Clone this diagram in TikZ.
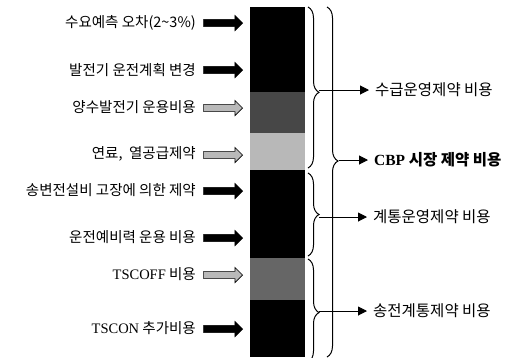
\documentclass[tikz,border=0pt]{standalone}
\usepackage{fontspec}
\setmainfont{Noto Sans CJK KR}
\newfontfamily\latinserif{Liberation Serif}
\usetikzlibrary{shapes.arrows,decorations.pathreplacing,arrows.meta}
\tikzset{
  lab/.style={anchor=east, font=\fontsize{14.5}{16}\selectfont, inner sep=0pt},
  rlab/.style={anchor=west, font=\fontsize{15.5}{17}\selectfont, inner sep=0pt},
  blk/.style={single arrow, draw=black, fill=black, line width=0.6pt,
    minimum height=39pt, minimum width=15pt, single arrow head extend=4pt,
    inner sep=3.3pt, anchor=tip},
  hatch/.style={blk, fill=gray!55},
  brc/.style={decorate, line width=1pt, decoration={brace, amplitude=11pt, aspect=#1}},
  conn/.style={line width=1pt, -{Triangle[length=9pt,width=9pt]}, shorten >=6pt},
}
\begin{document}
\begin{tikzpicture}[x=1pt,y=-1pt]
\useasboundingbox (0,0) rectangle (511,357);
% bar
\fill[black] (250,7) rectangle (305,92);
\fill[black!72] (250,92) rectangle (305,133);
\fill[black!28] (250,133) rectangle (305,170);
\fill[black] (250,170) rectangle (305,258);
\fill[black!60] (250,258) rectangle (305,300);
\fill[black] (250,300) rectangle (305,357);
% left labels
\node[lab] (l1) at (196,23) {수요예측 오차(2\textasciitilde 3\%)};
\node[lab] (l2) at (196,70) {발전기 운전계획 변경};
\node[lab] (l3) at (196,107) {양수발전기 운용비용};
\node[lab] (l4) at (196,154) {연료,\ \ 열공급제약};
\node[lab] (l5) at (196,190) {송변전설비 고장에 의한 제약};
\node[lab] (l6) at (196,237) {운전예비력 운용 비용};
\node[lab] (l7) at (196,274) {{\latinserif TSCOFF} 비용};
\node[lab] (l8) at (196,328) {{\latinserif TSCON} 추가비용};
% block arrows
\node[blk]   (a1) at (243,23) {};
\node[blk]   (a2) at (243,70) {};
\node[hatch] (a3) at (243,108) {};
\node[hatch] (a4) at (243,155) {};
\node[blk]   (a5) at (243,191) {};
\node[blk]   (a6) at (243,238) {};
\node[hatch] (a7) at (243,275) {};
\node[blk]   (a8) at (243,329) {};
% braces
\draw[brc=0.53] (308,7) -- (308,168);
\draw[brc=0.44] (327,7) -- (327,357);
\draw[brc=0.5] (308,173) -- (308,256);
\draw[brc=0.52] (308,259) -- (308,362);
\coordinate (t1) at (319,90);
\coordinate (t0) at (339,160);
\coordinate (t2) at (319,217);
\coordinate (t3) at (319,311);
% right labels
\node[rlab] (r1) at (375,90) {수급운영제약 비용};
\node[rlab, font=\fontsize{15.5}{17}\selectfont\bfseries] (r0) at (374,160) {{\latinserif CBP} 시장 제약 비용};
\node[rlab] (r2) at (373,217) {계통운영제약 비용};
\node[rlab] (r3) at (373,311) {송전계통제약 비용};
\draw[conn] (t1) -- (r1.west);
\draw[conn] (t0) -- (r0.west);
\draw[conn] (t2) -- (r2.west);
\draw[conn] (t3) -- (r3.west);
\end{tikzpicture}
\end{document}
